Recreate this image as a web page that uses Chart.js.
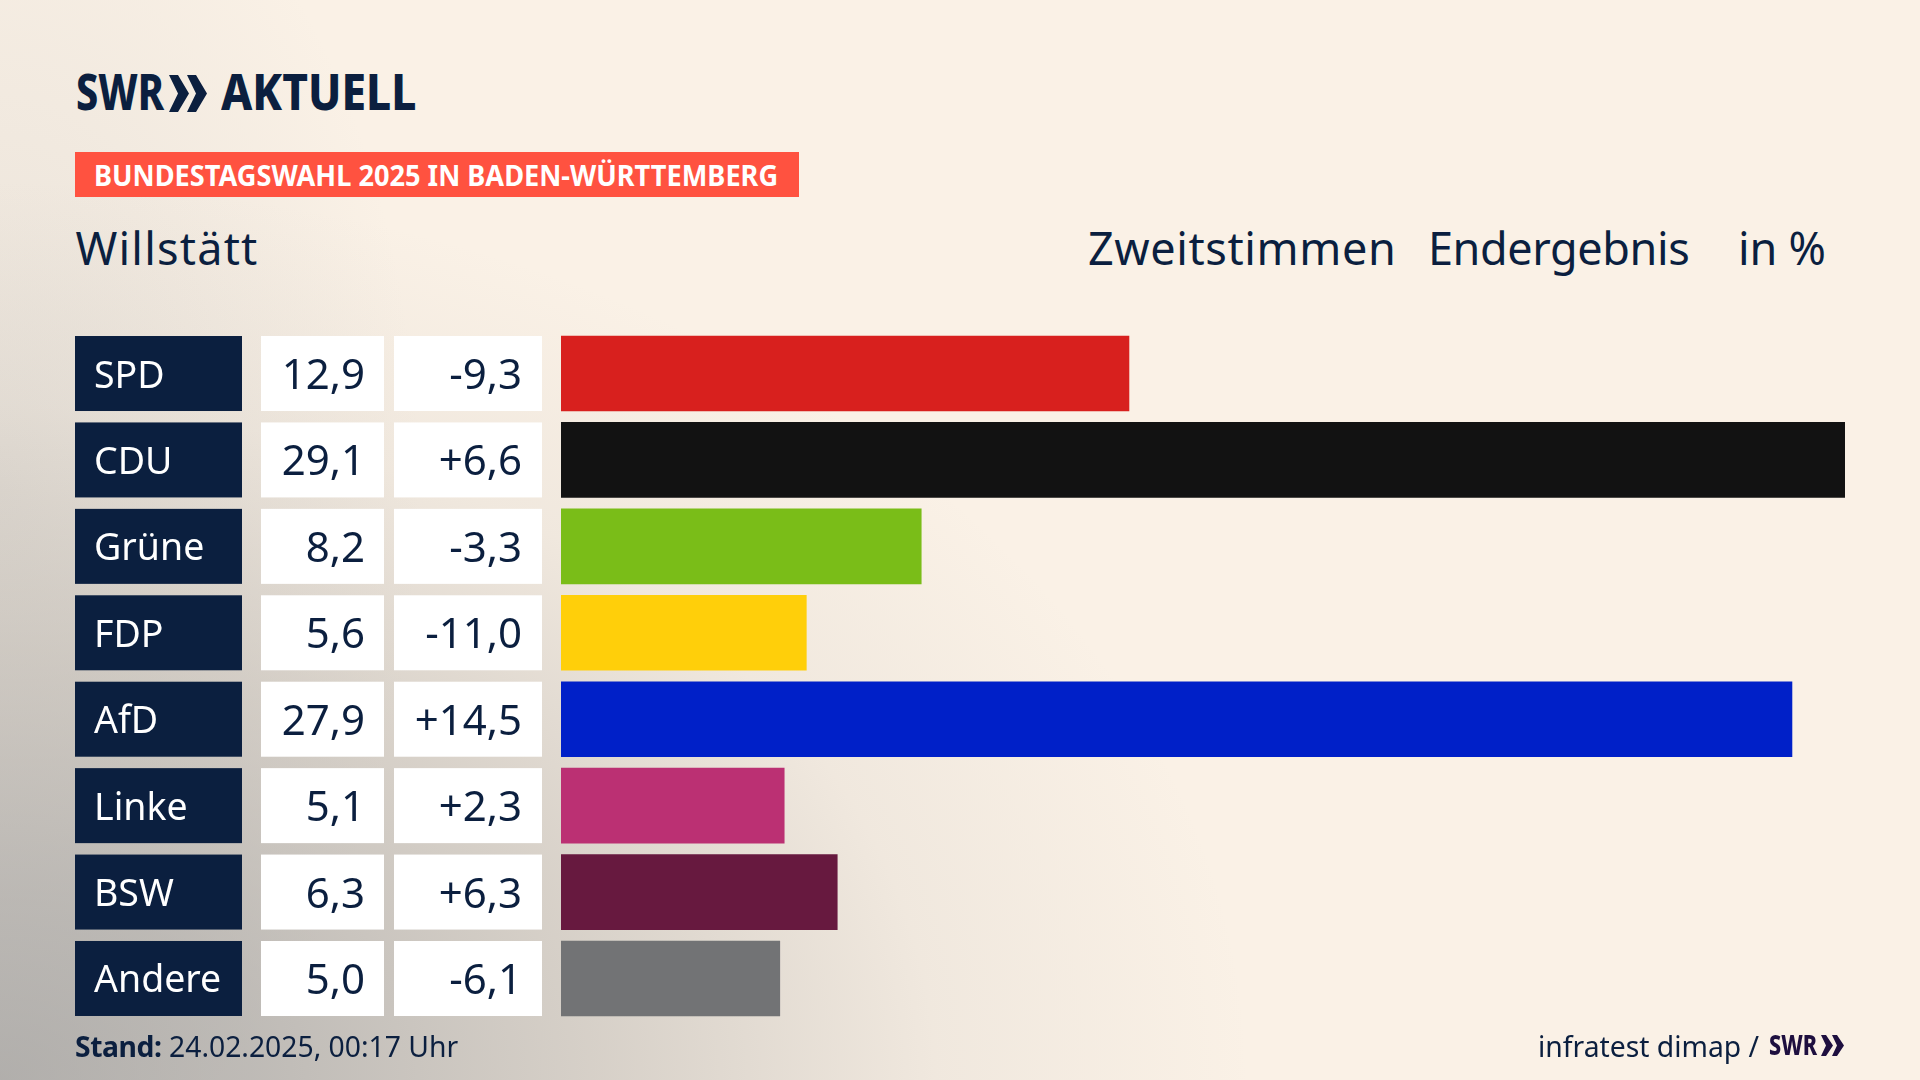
<!DOCTYPE html>
<html lang="de">
<head>
<meta charset="utf-8">
<title>Bundestagswahl 2025 - Willstätt</title>
<script src="https://cdn.jsdelivr.net/npm/chart.js@4"></script>
<style>
    html, body { margin: 0; padding: 0; }
    body {
        position: relative;
        width: 1920px;
        height: 1080px;
        overflow: hidden;
        color: #0b1f3f;
        font-family: "Noto Sans", sans-serif;
        background:
            radial-gradient(ellipse 1250px 900px at 0% 100%, rgba(150,150,150,.72) 0%, rgba(150,150,150,.6) 20%, rgba(155,153,150,.37) 48%, rgba(170,168,165,.12) 75%, rgba(250,241,230,0) 100%),
            radial-gradient(ellipse 420px 700px at 0% 45%, rgba(190,188,184,.3) 0%, rgba(250,241,230,0) 100%),
            #faf1e6;
    }
    canvas { position: absolute; left: 0; top: 0; }
    .txt { position: absolute; white-space: nowrap; line-height: 1; transform-origin: left top; }
    .logo { font-weight: 800; font-size: 50px; }
    #banner { position: absolute; left: 75px; top: 152px; width: 724px; height: 45px; background: #ff5240; }
    #bannerText { left: 94px; top: 161px; color: #fff; font-weight: 700; font-size: 28px; transform: scaleX(.97); }
    .kopf { font-size: 45px; top: 225px; }
    .fuss { font-size: 28.3px; top: 1032px; }
    .fuss b { letter-spacing: -.4px; }
</style>
</head>
<body>
<span class="txt logo" style="left:76px; top:66px; transform:scaleX(.79);">SWR</span>
<svg style="position:absolute; left:169px; top:75px;" width="39" height="38" fill="#0b1f3f">
    <polygon points="0,0 9,0 20,18.5 9,37 0,37 9,18.5"/>
    <polygon points="18,0 27,0 38,18.5 27,37 18,37 27,18.5"/>
</svg>
<span class="txt logo" style="left:221px; top:66px; transform:scaleX(.885);">AKTUELL</span>

<div id="banner"></div>
<span class="txt" id="bannerText">BUNDESTAGSWAHL 2025 IN BADEN-WÜRTTEMBERG</span>

<span class="txt kopf" style="left:75.5px; letter-spacing:1.2px;">Willstätt</span>
<span class="txt kopf" style="left:1088px; letter-spacing:.6px;">Zweitstimmen</span>
<span class="txt kopf" style="left:1428px; letter-spacing:-.4px;">Endergebnis</span>
<span class="txt kopf" style="left:1738px; letter-spacing:-.2px;">in %</span>

<canvas id="wahlChart" width="1920" height="1080"></canvas>

<span class="txt fuss" style="left:75px;"><b>Stand:</b> 24.02.2025, 00:17 Uhr</span>
<span class="txt fuss" style="left:1538px;">infratest dimap /</span>
<span class="txt logo" style="left:1769px; top:1030px; font-size:28px; color:#1e0f3f; transform:scaleX(.77);">SWR</span>
<svg style="position:absolute; left:1821px; top:1035px;" width="23" height="21" fill="#1e0f3f">
    <polygon points="0,0 5,0 12,10.5 5,21 0,21 5,10.5"/>
    <polygon points="11,0 16,0 23,10.5 16,21 11,21 16,10.5"/>
</svg>

<script>
const parteien = ['SPD', 'CDU', 'Grüne', 'FDP', 'AfD', 'Linke', 'BSW', 'Andere'];
const ergebnis = [12.9, 29.1, 8.2, 5.6, 27.9, 5.1, 6.3, 5.0];
const differenz = [-9.3, 6.6, -3.3, -11.0, 14.5, 2.3, 6.3, -6.1];
const farben = ['#d8201e', '#121212', '#7abd18', '#ffcf0a', '#0020c8', '#bb3073', '#67193f', '#727375'];

const NAVY = '#0b1f3f';
const BALKEN_HOEHE = 75;

function zahl(wert) {
    return wert.toFixed(1).replace('.', ',');
}

function diffText(wert) {
    return (wert > 0 ? '+' : '') + zahl(wert);
}

// Parteiname und Wertezellen links neben den Balken, Zeilen kommen aus der y-Skala
const tabelle = {
    id: 'tabelle',
    afterDatasetsDraw(chart) {
        const ctx = chart.ctx;
        const y = chart.scales.y;
        ctx.save();
        ctx.textBaseline = 'alphabetic';
        parteien.forEach((partei, i) => {
            const mitte = y.getPixelForValue(i);
            const oben = mitte - BALKEN_HOEHE / 2;

            ctx.fillStyle = NAVY;
            ctx.fillRect(75, oben, 167, BALKEN_HOEHE);
            ctx.fillStyle = '#ffffff';
            ctx.fillRect(261, oben, 123, BALKEN_HOEHE);
            ctx.fillRect(394, oben, 148, BALKEN_HOEHE);

            ctx.font = '37.5px "Noto Sans", sans-serif';
            ctx.textAlign = 'left';
            ctx.fillStyle = '#ffffff';
            ctx.fillText(partei, 94, mitte + 14);

            ctx.font = '42px "Noto Sans", sans-serif';
            ctx.textAlign = 'right';
            ctx.fillStyle = NAVY;
            ctx.fillText(zahl(ergebnis[i]), 365, mitte + 15.5);
            ctx.fillText(diffText(differenz[i]), 522, mitte + 15.5);
        });
        ctx.restore();
    }
};

new Chart(document.getElementById('wahlChart'), {
    type: 'bar',
    data: {
        labels: parteien,
        datasets: [{
            data: ergebnis,
            backgroundColor: farben,
            barThickness: BALKEN_HOEHE,
            borderWidth: 0
        }]
    },
    options: {
        indexAxis: 'y',
        responsive: false,
        animation: false,
        layout: { padding: { left: 561, right: 75, top: 330.3, bottom: 58.3 } },
        plugins: { legend: { display: false }, tooltip: { enabled: false } },
        scales: {
            x: { display: false, min: 0.05, max: 29.1 },
            y: { display: false }
        }
    },
    plugins: [tabelle]
});
</script>
</body>
</html>
